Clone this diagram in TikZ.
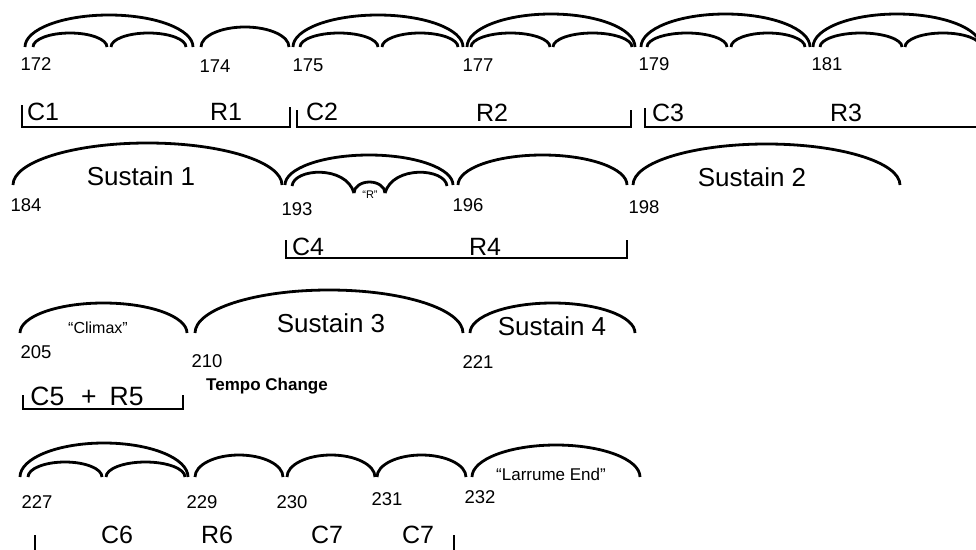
\documentclass[tikz,border=0pt]{standalone}
\usepackage{fontspec}
\setmainfont{Liberation Sans}
\newcommand\marc[4]{\draw[arcline] (#1,#3) arc[start angle=180,end angle=360,x radius={(#2-#1)/2},y radius=#4];}
\newcommand\mbrk[5]{\draw[brk] (#1,#3) -- (#1,#4) -- (#2,#4) -- (#2,#5);}
\begin{document}
\begin{tikzpicture}[x=1pt,y=1pt,yscale=-1,
  arcline/.style={line width=2.8pt},
  brk/.style={line width=1.8pt},
  num/.style={inner sep=0pt,anchor=base,font=\fontsize{18.5}{20}\selectfont},
  lab/.style={inner sep=0pt,anchor=base,font=\fontsize{25}{27}\selectfont},
  sus/.style={inner sep=0pt,anchor=base,font=\fontsize{26}{28}\selectfont},
  quote/.style={inner sep=0pt,anchor=base,font=\fontsize{16}{18}\selectfont}]
\useasboundingbox (0,0) rectangle (976,549);
\clip (0,0) rectangle (976,549);
% ---------------- row 1 ----------------
\marc{25}{193}{47}{32}
\marc{33}{107}{47}{14}
\marc{111}{186}{47}{14}
\marc{201}{289}{47}{20}
\marc{293}{463}{47}{32}
\marc{300}{378}{47}{14}
\marc{382}{458}{47}{14}
\marc{467}{635}{47}{33}
\marc{471}{550}{47}{14}
\marc{553}{632}{47}{14}
\marc{641}{810}{47}{33}
\marc{647}{727}{47}{14}
\marc{731}{805}{47}{14}
\marc{813}{981}{47}{33}
\marc{820}{902}{47}{14}
\marc{905}{981}{47}{14}
\node[num] (n172) at (36,70) {172};
\node[num] (n174) at (215,72) {174};
\node[num] (n175) at (308,71) {175};
\node[num] (n177) at (478,71) {177};
\node[num] (n179) at (654,70) {179};
\node[num] (n181) at (827,70) {181};
\mbrk{22}{290}{105}{127}{107}
\mbrk{297}{631}{110}{127}{110}
\mbrk{645}{990}{108}{127}{108}
\node[lab] (c1) at (43,120) {C1};
\node[lab] (r1) at (226,120) {R1};
\node[lab] (c2) at (322,120.5) {C2};
\node[lab] (r2) at (492,121) {R2};
\node[lab] (c3) at (668,121) {C3};
\node[lab] (r3) at (846,121) {R3};
% ---------------- row 2 ----------------
\marc{13}{282}{185}{42}
\marc{285}{453}{185}{30}
\draw[arcline] (292,186) .. controls (294,168) and (346,165) .. (354,193);
\draw[arcline] (354,193) arc[start angle=180,end angle=360,x radius=15.5,y radius=11];
\draw[arcline] (385,193) .. controls (393,165) and (445,168) .. (447,186);
\marc{458}{627}{185}{30}
\marc{633}{900}{185}{41}
\node[sus] (s1) at (141,185) {Sustain 1};
\node[sus] (s2) at (752,186) {Sustain 2};
\node[num] (n184) at (26,211) {184};
\node[num] (n193) at (297,215) {193};
\node[inner sep=0pt,anchor=base,font=\fontsize{11}{12}\selectfont] (rq) at (370,198) {“R”};
\node[num] (n196) at (468,211) {196};
\node[num] (n198) at (644,213) {198};
\mbrk{286}{627}{240}{258}{240}
\node[lab] (c4) at (308,255) {C4};
\node[lab] (r4) at (485,255) {R4};
% ---------------- row 3 ----------------
\marc{20}{187}{333}{30}
\marc{195}{463}{333}{43}
\marc{470}{635}{333}{30}
\node[quote] (clx) at (98,333) {“Climax”};
\node[sus] (s3) at (331,332) {Sustain 3};
\node[sus] (s4) at (552,335) {Sustain 4};
\node[num] (n205) at (36,358) {205};
\node[num] (n210) at (207,367) {210};
\node[num] (n221) at (478,368) {221};
\node[inner sep=0pt,anchor=base,font=\fontsize{17}{18}\selectfont\bfseries] (tc) at (267,390) {Tempo Change};
\mbrk{23}{183}{395}{409}{395}
\node[lab,font=\fontsize{26.5}{28}\selectfont] (c5) at (87,405) {C5\hspace{17pt}+\hspace{13pt}R5};
% ---------------- row 4 ----------------
\marc{20}{188}{477}{34}
\marc{28}{102}{477}{15}
\marc{106}{185}{477}{15}
\marc{195}{283}{477}{22}
\marc{287}{375}{477}{22}
\marc{377}{466}{477}{22}
\marc{472}{640}{477}{32}
\node[quote,font=\fontsize{17}{18}\selectfont] (lre) at (551,480) {“Larrume End”};
\node[num] (n227) at (37,508) {227};
\node[num] (n229) at (202,508) {229};
\node[num] (n230) at (292,508) {230};
\node[num] (n231) at (387,505) {231};
\node[num] (n232) at (480,503) {232};
\mbrk{35}{454}{535}{556}{535}
\node[lab] (c6) at (117,543) {C6};
\node[lab] (r6) at (217,543) {R6};
\node[lab] (c7a) at (327,543) {C7};
\node[lab] (c7b) at (418,543) {C7};
\end{tikzpicture}
\end{document}
